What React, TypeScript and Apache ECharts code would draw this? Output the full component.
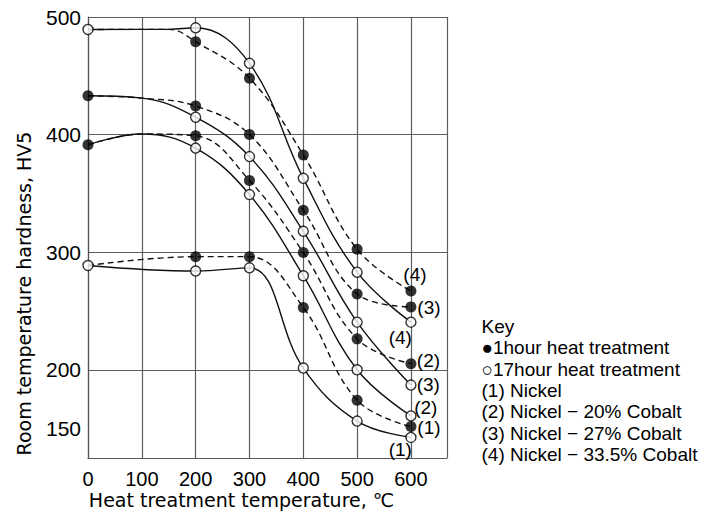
import React, { useEffect, useRef } from 'react';
import * as echarts from 'echarts';

// ---------- data ----------
const treatmentTemps = [200, 300, 400, 500, 600];
const alloyTags = ['(1)', '(2)', '(3)', '(4)'];
const alloyNames = ['Nickel', 'Nickel − 20% Cobalt', 'Nickel − 27% Cobalt', 'Nickel − 33.5% Cobalt'];
// hardness before heat treatment (0 ℃)
const asReceivedHardness = [288.7, 391.3, 433, 489.4];
const asReceivedMarker = ['open', 'filled', 'filled', 'open'];
// 1 hour heat treatment (filled circles, dashed curves) at 200..600 ℃
const oneHourHardness = [
  [296.2, 296.2, 253, 174.2, 151.7],
  [399, 361, 299.7, 226.3, 205.2],
  [424.3, 400, 335.7, 264.5, 253.5],
  [479, 448, 382.7, 302.5, 267],
];
// 17 hour heat treatment (open circles, solid curves) at 200..600 ℃
const seventeenHourHardness = [
  [284, 286.7, 201.5, 156.4, 142.5],
  [388.5, 349, 280, 200, 160.8],
  [414.8, 381.3, 317.8, 240.5, 187],
  [490.8, 460.6, 362.8, 283, 240.5],
];
// points read on the drawn curves where they are shared before branching
const branchPoints: ([number, number] | null)[] = [null, [100, 400.5], [100, 431], [150, 489.5]];

const xTickLabels = [0, 100, 200, 300, 400, 500, 600];
const yTickLabels = [150, 200, 300, 400, 500];
const yGridValues = [200, 300, 400, 500];
const xMax = 667;
const yMin = 125;
const yMax = 500;
const yStep = 25;

const keyLines = [
  'Key',
  '●1hour heat treatment',
  '○17hour heat treatment',
  ...alloyTags.map((t, i) => `${t} ${alloyNames[i]}`),
];

// ---------- styles ----------
const INK = '#000';
const GRID = '#5e5e5e';
const tickFont = 'Liberation Sans';
const titleFont = 'DejaVu Sans';
const FILLED_SIZE = 11;
const OPEN_SIZE = 10;
const filledLabelOffsets = [[18, 1], [17.5, -3.5], [18, 1], [4, -17]];
const openLabelOffsets = [[-10, 13], [15.5, -8], [18, 0], [-10, 16.5]];

function buildOption() {
  const lineSeries: any[] = [];
  alloyTags.forEach((tag, i) => {
    const head: number[][] = [[0, asReceivedHardness[i]]];
    if (branchPoints[i]) head.push(branchPoints[i] as number[]);
    lineSeries.push({
      name: `${tag} 17h`,
      type: 'line',
      smooth: 0.4,
      symbol: 'none',
      z: 2,
      silent: true,
      lineStyle: { color: '#111', width: 1.4, type: 'solid' },
      data: [...head, ...treatmentTemps.map((t, j) => [t, seventeenHourHardness[i][j]])],
    });
    lineSeries.push({
      name: `${tag} 1h`,
      type: 'line',
      smooth: 0.4,
      symbol: 'none',
      z: 2,
      silent: true,
      lineStyle: { color: '#111', width: 1.4, type: [6, 4] },
      data: [...head, ...treatmentTemps.map((t, j) => [t, oneHourHardness[i][j]])],
    });
  });

  const labelStyle = (text: string, off: number[], size: number) => ({
    show: true,
    formatter: text,
    position: [size / 2 + off[0], size / 2 + off[1]],
    align: 'center',
    verticalAlign: 'middle',
    fontFamily: tickFont,
    fontSize: 19,
    color: INK,
    opacity: 1,
    textBorderColor: 'transparent',
    textBorderWidth: 0,
  });

  const filledData: any[] = [];
  const openData: any[] = [];
  alloyTags.forEach((tag, i) => {
    const start = [0, asReceivedHardness[i]];
    if (asReceivedMarker[i] === 'filled') filledData.push({ value: start });
    else openData.push({ value: start });
    treatmentTemps.forEach((t, j) => {
      const last = j === treatmentTemps.length - 1;
      filledData.push({
        value: [t, oneHourHardness[i][j]],
        ...(last ? { label: labelStyle(tag, filledLabelOffsets[i], FILLED_SIZE) } : {}),
      });
      openData.push({
        value: [t, seventeenHourHardness[i][j]],
        ...(last ? { label: labelStyle(tag, openLabelOffsets[i], OPEN_SIZE) } : {}),
      });
    });
  });

  const yTickCount = Math.round((yMax - yMin) / yStep) + 1;
  const ySplitColors = Array.from({ length: yTickCount }, (_, k) =>
    yGridValues.includes(yMin + k * yStep) ? GRID : 'rgba(0,0,0,0)'
  );

  return {
    animation: false,
    backgroundColor: '#ffffff',
    grid: { left: 88, right: 254, top: 17, bottom: 56 },
    xAxis: {
      type: 'value',
      min: 0,
      max: xMax,
      interval: 100,
      axisLine: { show: true, lineStyle: { color: '#555', width: 1.2 } },
      axisTick: { show: false },
      splitLine: { show: true, lineStyle: { color: GRID, width: 1.2 } },
      axisLabel: {
        showMaxLabel: false,
        margin: 11,
        fontFamily: tickFont,
        fontSize: 20,
        color: INK,
        formatter: (v: number) => (xTickLabels.includes(v) ? String(v) : ''),
      },
    },
    yAxis: {
      type: 'value',
      min: yMin,
      max: yMax,
      interval: yStep,
      axisLine: { show: true, lineStyle: { color: '#555', width: 1.2 } },
      axisTick: { show: false },
      splitLine: { show: true, lineStyle: { color: ySplitColors, width: 1.2 } },
      axisLabel: {
        margin: 7,
        fontFamily: tickFont,
        fontSize: 21,
        color: INK,
        formatter: (v: number) => (yTickLabels.includes(v) ? String(v) : ''),
      },
    },
    series: [
      ...lineSeries,
      {
        name: '1hour heat treatment',
        type: 'scatter',
        z: 3,
        silent: true,
        symbol: 'circle',
        symbolSize: FILLED_SIZE,
        itemStyle: { color: '#000' },
        data: filledData,
      },
      {
        name: '17hour heat treatment',
        type: 'scatter',
        z: 4,
        silent: true,
        symbol: 'circle',
        symbolSize: OPEN_SIZE,
        itemStyle: { color: '#fff', borderColor: '#000', borderWidth: 1.4 },
        data: openData,
      },
    ],
    graphic: [
      {
        type: 'text',
        x: 241.5,
        y: 500,
        style: {
          text: 'Heat treatment temperature, ℃',
          font: `19px "${titleFont}"`,
          fill: INK,
          textAlign: 'center',
          textVerticalAlign: 'middle',
        },
      },
      {
        type: 'text',
        x: 23.5,
        y: 293.5,
        rotation: Math.PI / 2,
        style: {
          text: 'Room temperature hardness, HV5',
          font: `19px "${titleFont}"`,
          fill: INK,
          textAlign: 'center',
          textVerticalAlign: 'middle',
        },
      },
      ...keyLines.map((line, k) => ({
        type: 'text',
        x: 481.5,
        y: 326.5 + k * 21.3,
        style: {
          text: line,
          font: `19px "${tickFont}"`,
          fill: INK,
          textAlign: 'left',
          textVerticalAlign: 'middle',
        },
      })),
    ],
  };
}

export default function App() {
  const ref = useRef<HTMLDivElement>(null);
  useEffect(() => {
    if (!ref.current) return;
    const chart = echarts.init(ref.current, undefined, { renderer: 'svg' });
    chart.setOption(buildOption() as any);
    return () => chart.dispose();
  }, []);
  return (
    <div
      ref={ref}
      style={{ position: 'absolute', left: 0, top: 0, width: 701, height: 514, background: '#fff' }}
    />
  );
}
